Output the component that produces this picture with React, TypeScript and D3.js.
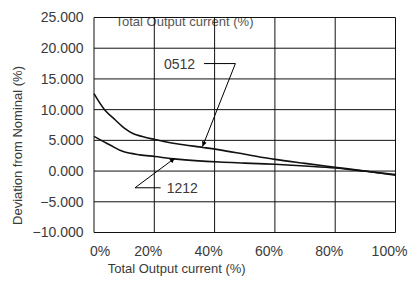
import React from "react";
import * as d3 from "d3";

const x0512 = [0, 3.5, 7, 10.3, 12.9, 16.9, 20.2, 27.4, 36.2, 41.7, 50, 60, 70, 80, 90, 100];
const s0512 = [12.6, 10.0, 8.35, 6.9, 6.1, 5.5, 5.15, 4.45, 3.85, 3.45, 2.75, 1.9, 1.25, 0.62, 0.0, -0.67];
const x1212 = [0, 5.3, 9.7, 15.2, 20.2, 27.4, 41.7, 50, 60, 70, 80, 90, 100];
const s1212 = [5.65, 4.24, 3.17, 2.64, 2.37, 1.95, 1.47, 1.3, 1.1, 0.82, 0.5, -0.03, -0.56];

const xTicks = [0, 20, 40, 60, 80, 100];
const yTicks = [25, 20, 15, 10, 5, 0, -5, -10];

// annotations in data units: label pos, leader start/end, arrow tip
const annotations = [
  { text: "0512", lx: 23.2, ly: 16.6, hx0: 46.9, hx1: 36.5, hy: 17.5, tx: 36.0, ty: 4.0, from: "end" },
  { text: "1212", lx: 24.1, ly: -3.53, hx0: 22.1, hx1: 13.6, hy: -2.72, tx: 26.8, ty: 2.1, from: "start" },
];

const W = 408;
const H = 287;
const font = "'Liberation Sans', Arial, Helvetica, sans-serif";
const textColor = "#3a3a3a";

export default function App() {
  const x = d3.scaleLinear().domain([0, 100]).range([94, 395.5]);
  const y = d3.scaleLinear().domain([-10, 25]).range([232.5, 17.5]);

  const mkLine = (xs: number[]) =>
    d3
      .line<number>()
      .x((_, i) => x(xs[i]))
      .y((d) => y(d))
      .curve(d3.curveCatmullRom.alpha(0.5));

  return (
    <svg
      width={W}
      height={H}
      style={{ position: "absolute", left: 0, top: 0, background: "#fff" }}
      fontFamily={font}
    >
      <defs>
        <marker
          id="arr"
          viewBox="0 0 10 10"
          refX="10"
          refY="5"
          markerWidth="6"
          markerHeight="5"
          markerUnits="userSpaceOnUse"
          orient="auto"
        >
          <path d="M0,0 L10,5 L0,10 z" fill="#000" />
        </marker>
      </defs>

      {/* top title under grid */}
      <text x={184.5} y={25.5} fontSize={13} fill="#555" textAnchor="middle">
        Total Output current (%)
      </text>

      {/* grid */}
      {yTicks.map((t) => (
        <line key={"h" + t} x1={x(0)} x2={x(100)} y1={y(t)} y2={y(t)} stroke="#111" strokeWidth={1} />
      ))}
      {xTicks.map((t) => (
        <line key={"v" + t} x1={x(t)} x2={x(t)} y1={y(25)} y2={y(-10)} stroke="#111" strokeWidth={1} />
      ))}

      {/* y tick labels */}
      {yTicks.map((t) => (
        <text
          key={"yl" + t}
          x={83.5}
          y={y(t)}
          dy="0.35em"
          fontSize={14}
          fill={textColor}
          textAnchor="end"
        >
          {d3.format(".3f")(t)}
        </text>
      ))}

      {/* x tick labels */}
      {xTicks.map((t) => (
        <text
          key={"xl" + t}
          x={Math.max(x(t) - 6, x(0) + 6)}
          y={256}
          fontSize={14}
          fill={textColor}
          textAnchor="middle"
        >
          {t + "%"}
        </text>
      ))}

      {/* axis titles */}
      <text x={176.7} y={272.5} fontSize={13} fill={textColor} textAnchor="middle">
        Total Output current (%)
      </text>
      <text
        transform={`translate(21.5,145.5) rotate(-90)`}
        fontSize={13}
        fill={textColor}
        textAnchor="middle"
      >
        Deviation from Nominal (%)
      </text>

      {/* series */}
      <path d={mkLine(x0512)(s0512) || ""} fill="none" stroke="#111" strokeWidth={1.6} />
      <path d={mkLine(x1212)(s1212) || ""} fill="none" stroke="#111" strokeWidth={1.6} />

      {/* annotations */}
      {annotations.map((a) => (
        <g key={a.text}>
          <text x={x(a.lx)} y={y(a.ly)} fontSize={14} fill={textColor}>
            {a.text}
          </text>
          <line x1={x(a.hx1)} x2={x(a.hx0)} y1={y(a.hy)} y2={y(a.hy)} stroke="#000" strokeWidth={1} />
          <line
            x1={x(a.from === "end" ? a.hx0 : a.hx1)}
            y1={y(a.hy)}
            x2={x(a.tx)}
            y2={y(a.ty)}
            stroke="#000"
            strokeWidth={1}
            markerEnd="url(#arr)"
          />
        </g>
      ))}
    </svg>
  );
}
